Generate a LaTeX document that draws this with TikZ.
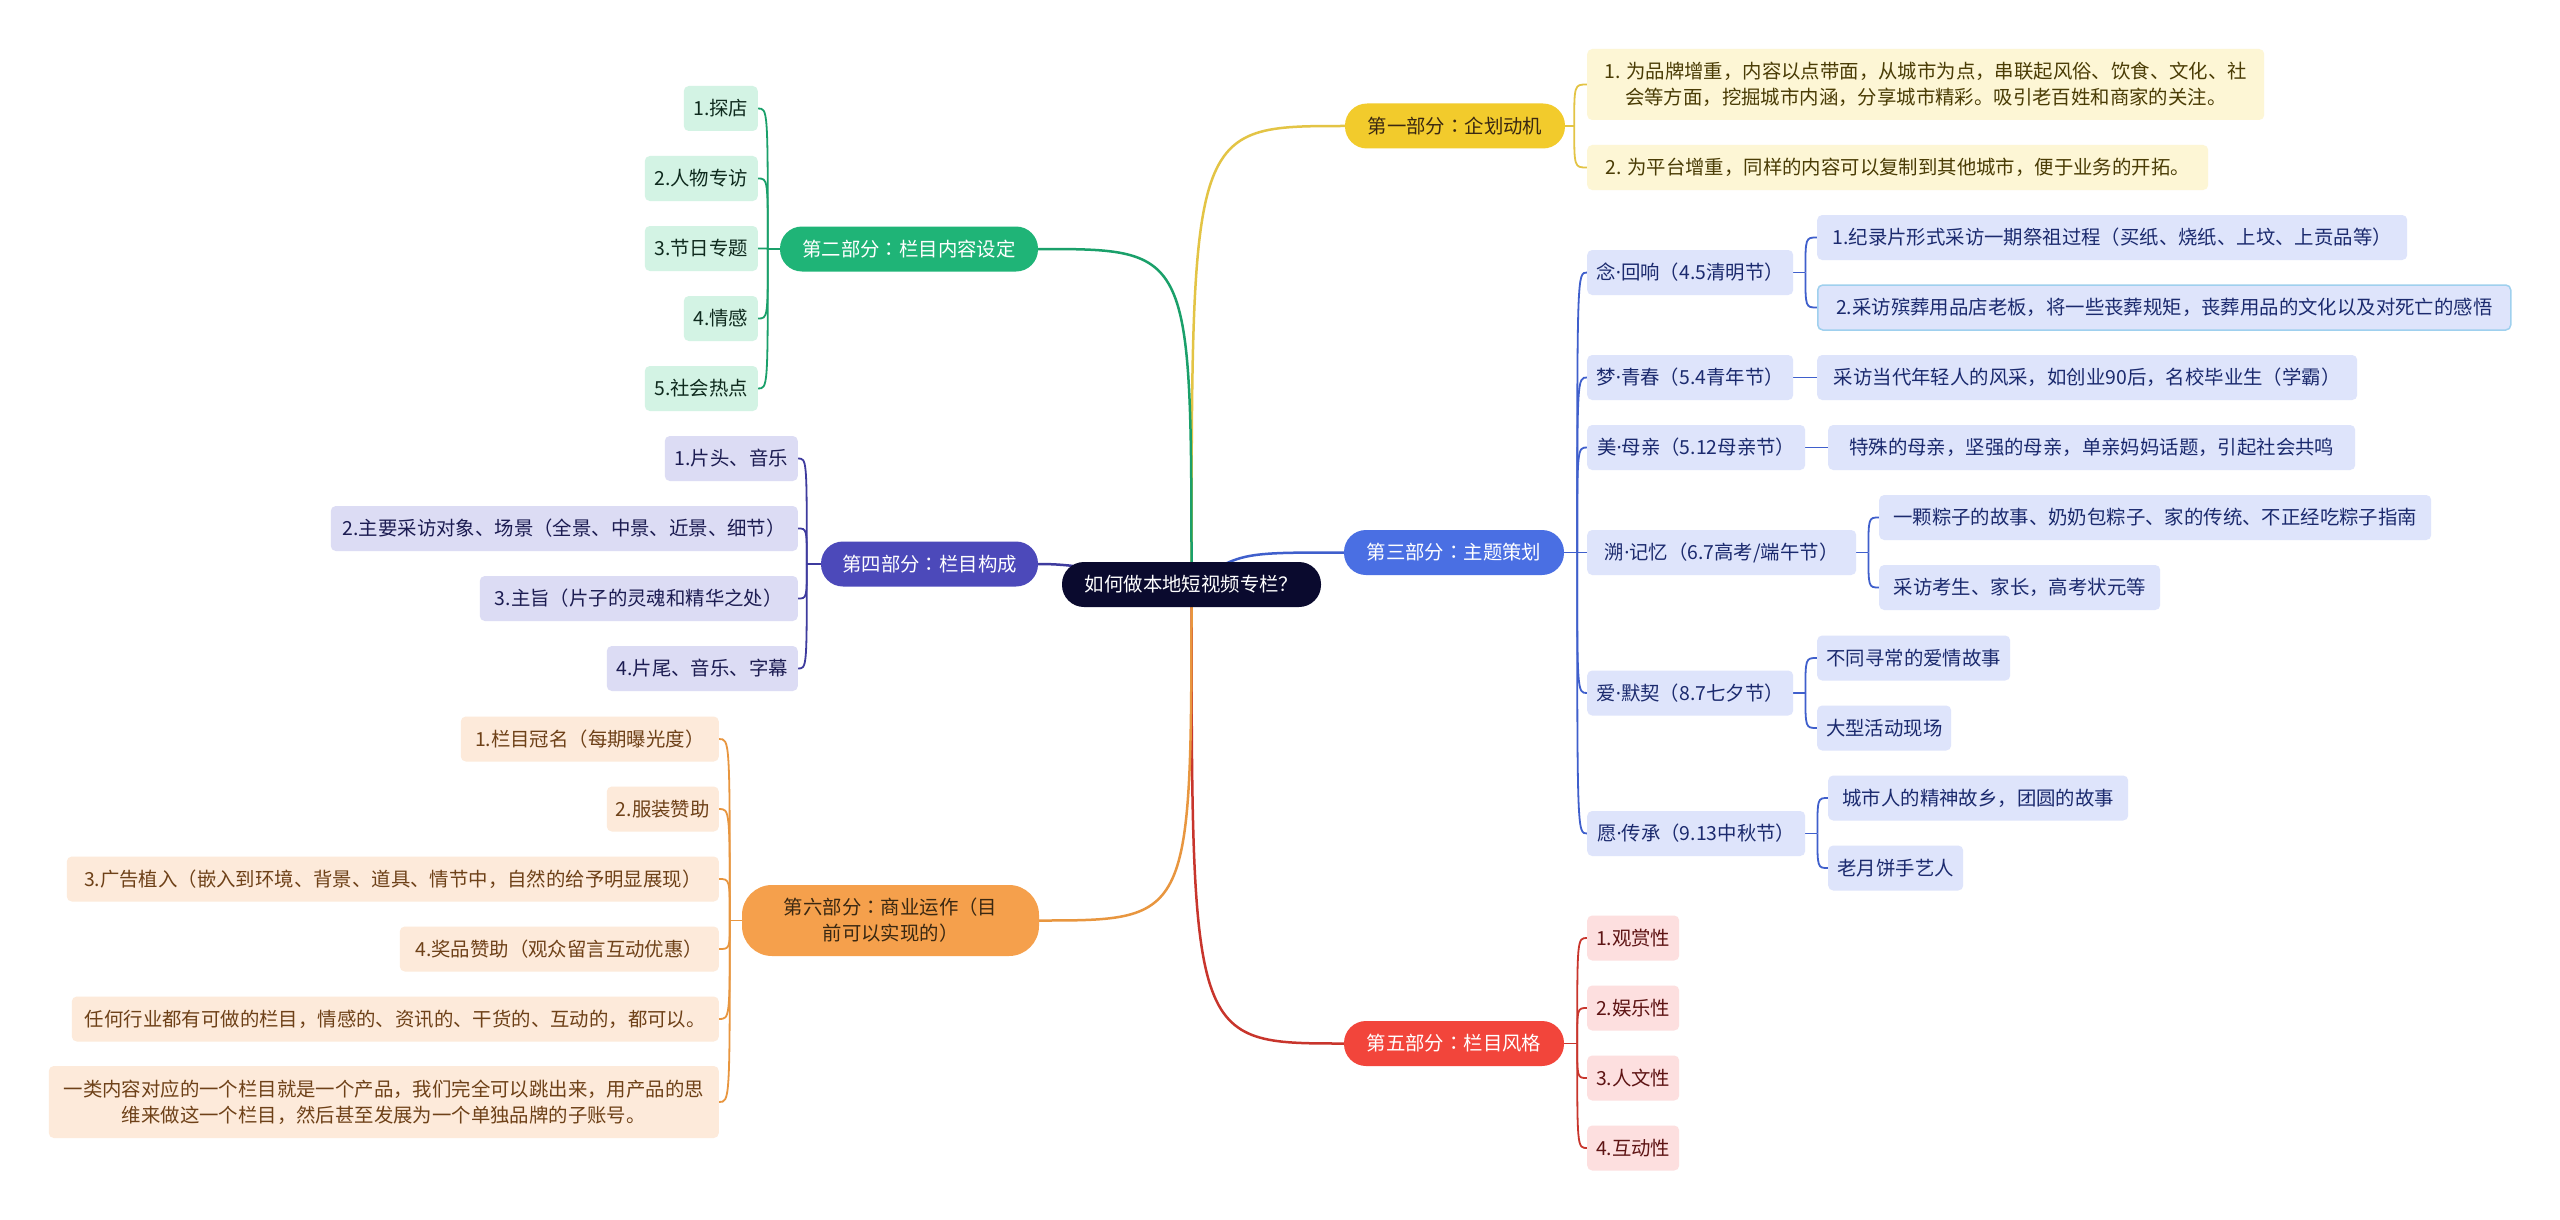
\documentclass[tikz,border=0pt]{standalone}
\usepackage{fontspec}
\setmainfont{Noto Sans CJK SC}
\newfontfamily\latf{Noto Sans}
\newfontfamily\tcf{Noto Sans CJK TC}
\usetikzlibrary{backgrounds,calc}
\newcommand\myfs{\fontsize{19.4}{26}\selectfont}
\newcommand\dt{{\latf ·}}
\newcommand\cln{{\tcf ：}}
\definecolor{rootc}{HTML}{0A0A2E}
\definecolor{ybr}{HTML}{F2CB2C}\definecolor{yln}{HTML}{E3C445}\definecolor{ylf}{HTML}{FDF6D5}\definecolor{ytx}{HTML}{4A3C05}
\definecolor{gbr}{HTML}{1FB477}\definecolor{gln}{HTML}{1AA06A}\definecolor{glf}{HTML}{D3F3E4}\definecolor{gtx}{HTML}{0F2A1E}
\definecolor{bbr}{HTML}{4A6FE3}\definecolor{bln}{HTML}{3F5FCC}\definecolor{blf}{HTML}{DEE4FB}\definecolor{btx}{HTML}{1B2A6E}
\definecolor{pbr}{HTML}{4C49BA}\definecolor{pln}{HTML}{3E3B9E}\definecolor{plf}{HTML}{DCDCF4}\definecolor{ptx}{HTML}{1C1C52}
\definecolor{rbr}{HTML}{F2453B}\definecolor{rln}{HTML}{C8352C}\definecolor{rlf}{HTML}{FDDFDF}\definecolor{rtx}{HTML}{5E1414}
\definecolor{obr}{HTML}{F5A04C}\definecolor{oln}{HTML}{E8963F}\definecolor{olf}{HTML}{FDEADA}\definecolor{otx}{HTML}{6E4118}\definecolor{obtx}{HTML}{3A2812}
\definecolor{selc}{HTML}{9FD0EE}
\begin{document}
\begin{tikzpicture}[x=1pt,y=-1pt,
  base/.style={inner sep=0pt, font=\myfs, align=center},
  pill/.style={base, rounded corners=22pt, minimum height=45pt},
  leaf/.style={base, rounded corners=5pt, minimum height=45pt},
  mainln/.style={line width=2.5pt},
  subln/.style={line width=1.8pt}]
\useasboundingbox (0,0) rectangle (2560,1220);
% root
\node[pill, fill=rootc, text=white, minimum width=259pt] (root) at (1191.5,584.5) {如何做本地短视频专栏？};
% branches
\node[pill, fill=ybr, text=obtx, minimum width=220pt] (b1) at (1455,126) {第一部分\cln 企划动机};
\node[pill, fill=gbr, text=white, minimum width=258pt] (b2) at (909,249) {第二部分\cln 栏目内容设定};
\node[pill, fill=bbr, text=white, minimum width=220pt] (b3) at (1454,552.5) {第三部分\cln 主题策划};
\node[pill, fill=pbr, text=white, minimum width=217pt] (b4) at (929.5,564) {第四部分\cln 栏目构成};
\node[pill, fill=rbr, text=white, minimum width=220pt] (b5) at (1454,1043.5) {第五部分\cln 栏目风格};
\node[pill, fill=obr, text=obtx, minimum width=297pt, minimum height=71pt, rounded corners=30pt] (b6) at (890.5,920.5) {第六部分\cln 商业运作（目\\前可以实现的）};
% yellow leaves
\node[leaf, fill=ylf, text=ytx, anchor=west, minimum width=677pt, minimum height=71pt] (y1) at (1587,84.5) {1. 为品牌增重，内容以点带面，从城市为点，串联起风俗、饮食、文化、社\\会等方面，挖掘城市内涵，分享城市精彩。吸引老百姓和商家的关注。};
\node[leaf, fill=ylf, text=ytx, anchor=west, minimum width=621pt] (y2) at (1587,167.5) {2. 为平台增重，同样的内容可以复制到其他城市，便于业务的开拓。};
% green leaves
\node[leaf, fill=glf, text=gtx, anchor=east, minimum width=74pt] (g1) at (758,108.5) {1.探店};
\node[leaf, fill=glf, text=gtx, anchor=east, minimum width=113pt] (g2) at (758,178.5) {2.人物专访};
\node[leaf, fill=glf, text=gtx, anchor=east, minimum width=113pt] (g3) at (758,248.5) {3.节日专题};
\node[leaf, fill=glf, text=gtx, anchor=east, minimum width=74pt] (g4) at (758,318.5) {4.情感};
\node[leaf, fill=glf, text=gtx, anchor=east, minimum width=113pt] (g5) at (758,388.5) {5.社会热点};
% purple leaves
\node[leaf, fill=plf, text=ptx, anchor=east, minimum width=133pt] (p1) at (798,458.5) {1.片头、音乐};
\node[leaf, fill=plf, text=ptx, anchor=east, minimum width=467pt] (p2) at (798,528.5) {2.主要采访对象、场景（全景、中景、近景、细节）};
\node[leaf, fill=plf, text=ptx, anchor=east, minimum width=318pt] (p3) at (798,598.5) {3.主旨（片子的灵魂和精华之处）};
\node[leaf, fill=plf, text=ptx, anchor=east, minimum width=191pt] (p4) at (798,668.5) {4.片尾、音乐、字幕};
% orange leaves
\node[leaf, fill=olf, text=otx, anchor=east, minimum width=258pt] (o1) at (719,739) {1.栏目冠名（每期曝光度）};
\node[leaf, fill=olf, text=otx, anchor=east, minimum width=112pt] (o2) at (719,809) {2.服装赞助};
\node[leaf, fill=olf, text=otx, anchor=east, minimum width=652pt] (o3) at (719,879) {3.广告植入（嵌入到环境、背景、道具、情节中，自然的给予明显展现）};
\node[leaf, fill=olf, text=otx, anchor=east, minimum width=319pt] (o4) at (719,949) {4.奖品赞助（观众留言互动优惠）};
\node[leaf, fill=olf, text=otx, anchor=east, minimum width=647pt] (o5) at (719,1019) {任何行业都有可做的栏目，情感的、资讯的、干货的、互动的，都可以。};
\node[leaf, fill=olf, text=otx, anchor=east, minimum width=670pt, minimum height=72pt] (o6) at (719,1102) {一类内容对应的一个栏目就是一个产品，我们完全可以跳出来，用产品的思\\维来做这一个栏目，然后甚至发展为一个单独品牌的子账号。};
% red leaves
\node[leaf, fill=rlf, text=rtx, anchor=west, minimum width=92pt] (r1) at (1587,938) {1.观赏性};
\node[leaf, fill=rlf, text=rtx, anchor=west, minimum width=92pt] (r2) at (1587,1008) {2.娱乐性};
\node[leaf, fill=rlf, text=rtx, anchor=west, minimum width=92pt] (r3) at (1587,1078) {3.人文性};
\node[leaf, fill=rlf, text=rtx, anchor=west, minimum width=92pt] (r4) at (1587,1148) {4.互动性};
% blue middle
\node[leaf, fill=blf, text=btx, anchor=west, minimum width=206pt] (m1) at (1587,272.5) {念\dt 回响（4.5清明节）};
\node[leaf, fill=blf, text=btx, anchor=west, minimum width=206pt] (m2) at (1587,377.5) {梦\dt 青春（5.4青年节）};
\node[leaf, fill=blf, text=btx, anchor=west, minimum width=218pt] (m3) at (1587,447.5) {美\dt 母亲（5.12母亲节）};
\node[leaf, fill=blf, text=btx, anchor=west, minimum width=269pt] (m4) at (1587,552.5) {溯\dt 记忆（6.7高考/端午节）};
\node[leaf, fill=blf, text=btx, anchor=west, minimum width=206pt] (m5) at (1587,693) {爱\dt 默契（8.7七夕节）};
\node[leaf, fill=blf, text=btx, anchor=west, minimum width=218pt] (m6) at (1587,833.5) {愿\dt 传承（9.13中秋节）};
% blue leaves
\node[leaf, fill=blf, text=btx, anchor=west, minimum width=590pt] (c11) at (1817,237.5) {1.纪录片形式采访一期祭祖过程（买纸、烧纸、上坟、上贡品等）};
\node[leaf, fill=blf, text=btx, anchor=west, minimum width=693pt, draw=selc, line width=1.5pt] (c12) at (1817,307.5) {2.采访殡葬用品店老板，将一些丧葬规矩，丧葬用品的文化以及对死亡的感悟};
\node[leaf, fill=blf, text=btx, anchor=west, minimum width=540pt] (c21) at (1817,377.5) {采访当代年轻人的风采，如创业90后，名校毕业生（学霸）};
\node[leaf, fill=blf, text=btx, anchor=west, minimum width=527pt] (c31) at (1828,447.5) {特殊的母亲，坚强的母亲，单亲妈妈话题，引起社会共鸣};
\node[leaf, fill=blf, text=btx, anchor=west, minimum width=552pt] (c41) at (1879,517.5) {一颗粽子的故事、奶奶包粽子、家的传统、不正经吃粽子指南};
\node[leaf, fill=blf, text=btx, anchor=west, minimum width=281pt] (c42) at (1879,587.5) {采访考生、家长，高考状元等};
\node[leaf, fill=blf, text=btx, anchor=west, minimum width=193pt] (c51) at (1817,658) {不同寻常的爱情故事};
\node[leaf, fill=blf, text=btx, anchor=west, minimum width=134pt] (c52) at (1817,728) {大型活动现场};
\node[leaf, fill=blf, text=btx, anchor=west, minimum width=300pt] (c61) at (1828,798) {城市人的精神故乡，团圆的故事};
\node[leaf, fill=blf, text=btx, anchor=west, minimum width=135pt] (c62) at (1828,868) {老月饼手艺人};
% connectors
\begin{scope}[on background layer]
\fill[white] (0,0) rectangle (2560,1220);
% root to branches
\draw[mainln, yln] (root.center) .. controls (root.center |- b1.west) .. (b1.west);
\draw[mainln, gln] (root.center) .. controls (root.center |- b2.east) .. (b2.east);
\draw[mainln, bln] (root.center) .. controls (1240,552.5) .. (b3.west);
\draw[mainln, pln] (root.center) .. controls +(-70,0) and +(70,0) .. (b4.east);
\draw[mainln, rln] (root.center) .. controls (root.center |- b5.west) .. (b5.west);
\draw[mainln, oln] (root.center) .. controls (root.center |- b6.east) .. (b6.east);
% yellow
\draw[subln, yln] (b1.east) -- ++(9,0) coordinate (jy);
\foreach \n in {y1,y2} \draw[subln, yln] (jy) .. controls (jy |- \n.west) .. (\n.west);
% green
\draw[subln, gln] (b2.west) -- ++(-12,0) coordinate (jg);
\foreach \n in {g1,g2,g3,g4,g5} \draw[subln, gln] (jg) .. controls (jg |- \n.east) .. (\n.east);
% purple
\draw[subln, pln] (b4.west) -- ++(-14,0) coordinate (jp);
\foreach \n in {p1,p2,p3,p4} \draw[subln, pln] (jp) .. controls (jp |- \n.east) .. (\n.east);
% orange
\draw[subln, oln] (b6.west) -- ++(-12,0) coordinate (jo);
\foreach \n in {o1,o2,o3,o4,o5,o6} \draw[subln, oln] (jo) .. controls (jo |- \n.east) .. (\n.east);
% red
\draw[subln, rln] (b5.east) -- ++(13,0) coordinate (jr);
\foreach \n in {r1,r2,r3,r4} \draw[subln, rln] (jr) .. controls (jr |- \n.west) .. (\n.west);
% blue
\draw[subln, bln] (b3.east) -- ++(13,0) coordinate (jb);
\foreach \n in {m1,m2,m3,m4,m5,m6} \draw[subln, bln] (jb) .. controls (jb |- \n.west) .. (\n.west);
\draw[subln, bln] (m1.east) -- ++(12,0) coordinate (jm1);
\foreach \n in {c11,c12} \draw[subln, bln] (jm1) .. controls (jm1 |- \n.west) .. (\n.west);
\draw[subln, bln] (m2.east) -- (c21.west);
\draw[subln, bln] (m3.east) -- (c31.west);
\draw[subln, bln] (m4.east) -- ++(12,0) coordinate (jm4);
\foreach \n in {c41,c42} \draw[subln, bln] (jm4) .. controls (jm4 |- \n.west) .. (\n.west);
\draw[subln, bln] (m5.east) -- ++(12,0) coordinate (jm5);
\foreach \n in {c51,c52} \draw[subln, bln] (jm5) .. controls (jm5 |- \n.west) .. (\n.west);
\draw[subln, bln] (m6.east) -- ++(12,0) coordinate (jm6);
\foreach \n in {c61,c62} \draw[subln, bln] (jm6) .. controls (jm6 |- \n.west) .. (\n.west);
\end{scope}
\end{tikzpicture}
\end{document}
